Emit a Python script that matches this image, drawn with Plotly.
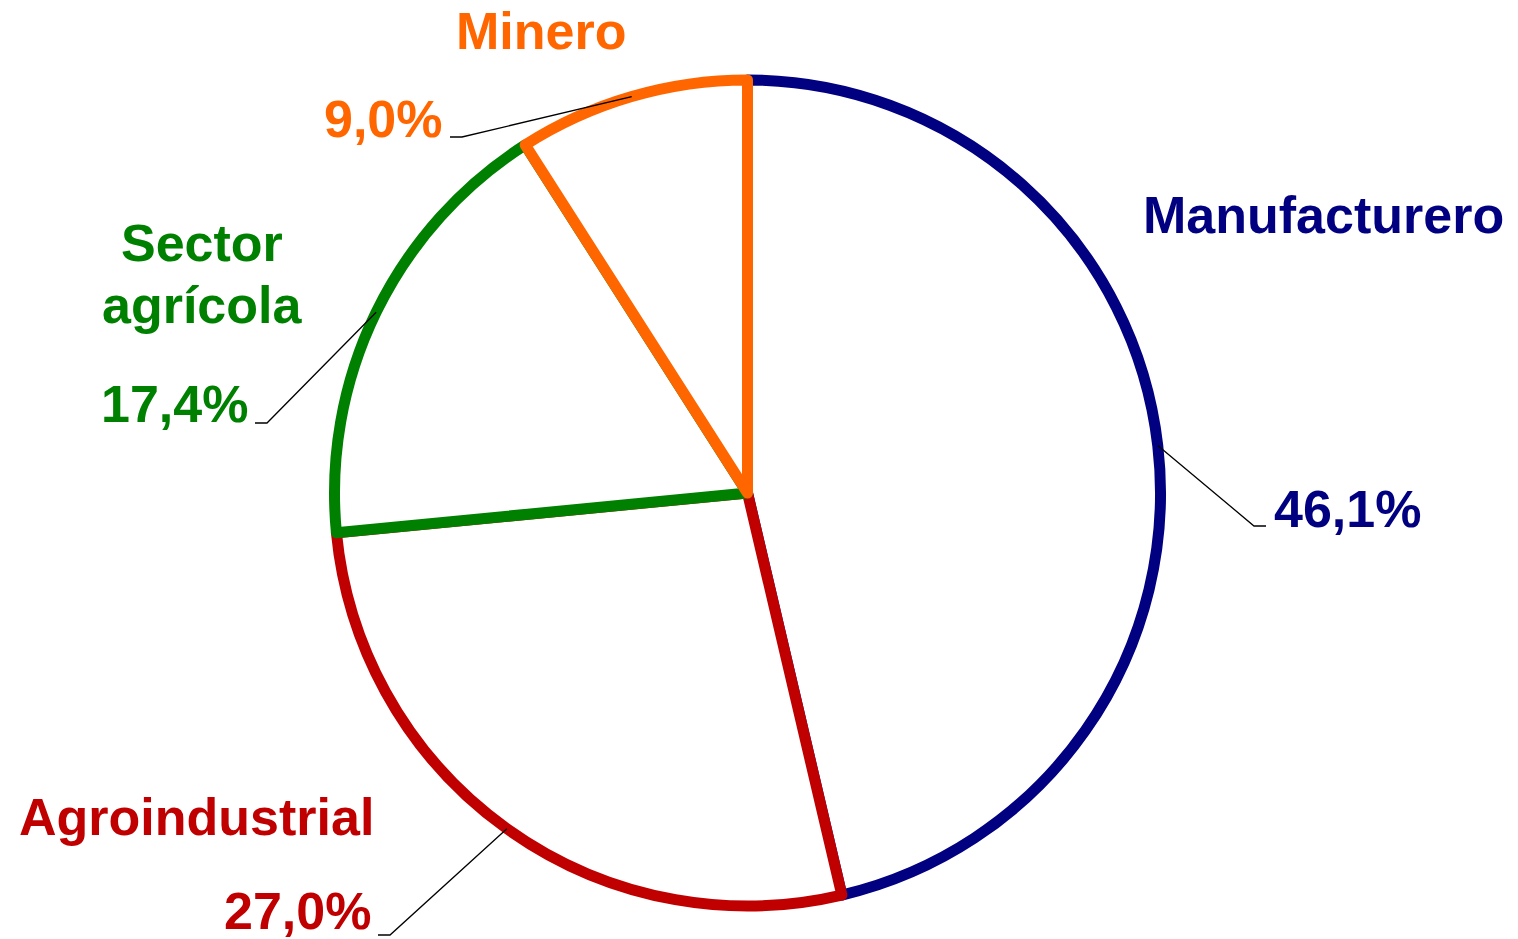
import math
import plotly.graph_objects as go

# ---- data ----
sectors = ["Manufacturero", "Agroindustrial", "Sector agrícola", "Minero"]
shares = [46.1, 27.0, 17.4, 9.0]
pct_labels = ["46,1%", "27,0%", "17,4%", "9,0%"]
name_lines = [["Manufacturero"], ["Agroindustrial"], ["Sector", "agrícola"], ["Minero"]]
colors = ["#000080", "#C00000", "#008000", "#FF6600"]

# ---- layout (pixels) ----
W, H = 1518, 939
CX, CY, R = 747.5, 493, 413
FS = 52
# name label: (x, first baseline, line step, xanchor)
name_pos = [(1323, 233, 62, "center"), (196, 835, 62, "center"),
            (202, 261, 62, "center"), (541, 49, 62, "center")]
# percent label: (x, baseline, xanchor)
pct_pos = [(1272, 527, "left"), (373, 929, "right"),
           (250, 422, "right"), (445, 137, "right")]
# leader elbow and end (pixels)
leader_pts = [((1254, 526), (1266, 526)), ((390, 935), (378, 935)),
              ((267, 423), (255, 423)), ((462, 137), (450, 137))]

def px(x):
    return x / W

def py(y):
    return 1 - y / H

fig = go.Figure(go.Pie(
    labels=sectors, values=shares, sort=False, direction="clockwise",
    rotation=0, textinfo="none", hoverinfo="label+percent",
    marker=dict(colors=["white"] * 4, line=dict(color=colors, width=11)),
    domain=dict(x=[px(CX - R), px(CX + R)], y=[py(CY + R), py(CY - R)]),
    showlegend=False,
))

ann = []
shapes = []
total = sum(shares)
cum = 0.0
for i, v in enumerate(shares):
    mid = (cum + v / 2) / total * 2 * math.pi
    cum += v
    sx = CX + R * math.sin(mid)
    sy = CY - R * math.cos(mid)
    (ex, ey), (fx, fy) = leader_pts[i]
    shapes.append(dict(type="path", xref="paper", yref="paper",
                       path=f"M {px(sx)},{py(sy)} L {px(ex)},{py(ey)} L {px(fx)},{py(fy)}",
                       line=dict(color="black", width=1.3)))
    x0, b0, step, xa = name_pos[i]
    for j, t in enumerate(name_lines[i]):
        ann.append(dict(text=t, x=px(x0), y=py(b0 + j * step - 18), xref="paper", yref="paper",
                        xanchor=xa, yanchor="middle", showarrow=False,
                        font=dict(family="Liberation Sans, Arial", size=FS, color=colors[i], weight="bold")))
    x1, b1, xa1 = pct_pos[i]
    ann.append(dict(text=pct_labels[i], x=px(x1), y=py(b1 - 18), xref="paper", yref="paper",
                    xanchor=xa1, yanchor="middle", showarrow=False,
                    font=dict(family="Liberation Sans, Arial", size=FS, color=colors[i], weight="bold")))

fig.update_layout(width=W, height=H, margin=dict(l=0, r=0, t=0, b=0),
                  paper_bgcolor="white", plot_bgcolor="white",
                  annotations=ann, shapes=shapes)

fig.write_html("out.html", config={"displayModeBar": False},
               post_script="document.body.style.margin='0';document.body.style.overflow='hidden';")
